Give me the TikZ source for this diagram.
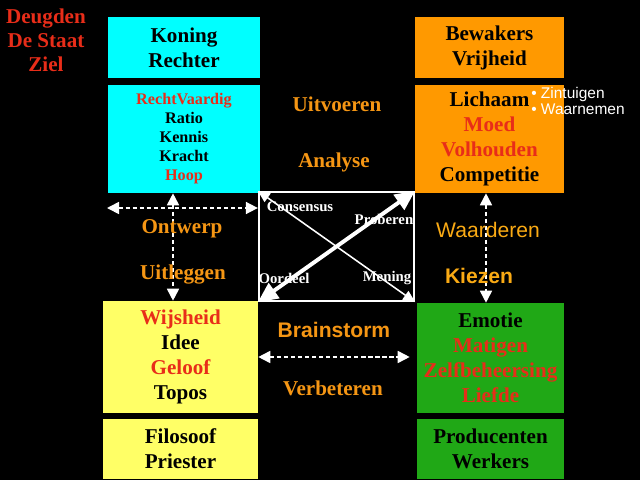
\documentclass[tikz,border=0pt]{standalone}
\usepackage{fontspec}
\setmainfont{Liberation Serif}
\setsansfont{Liberation Sans}
\definecolor{dgcyan}{RGB}{0,255,255}
\definecolor{dgorange}{RGB}{255,153,0}
\definecolor{dgyellow}{RGB}{255,255,102}
\definecolor{dggreen}{RGB}{32,168,22}
\definecolor{dgred}{RGB}{232,45,25}
\definecolor{dgtext}{RGB}{245,150,20}
\definecolor{dglight}{RGB}{250,170,20}
\usetikzlibrary{arrows.meta,positioning,calc}

\begin{document}
\begin{tikzpicture}[x=0.025cm,y=-0.025cm,
  box/.style={inner sep=0pt,align=center,text=black,
    font=\bfseries\fontsize{15}{17.8}\selectfont},
  smallbox/.style={box,font=\bfseries\fontsize{11.5}{13.5}\selectfont},
  verb/.style={font=\bfseries\fontsize{15}{17.5}\selectfont,text=dgtext},
  verbsf/.style={font=\sffamily\bfseries\fontsize{15}{17.5}\selectfont,text=dgtext},
  corner/.style={font=\bfseries\fontsize{10.5}{12}\selectfont,text=white,inner sep=0pt},
  dbl/.style={{Triangle[length=3mm,width=3mm]}-{Triangle[length=3mm,width=3mm]},
    white,densely dashed,line width=1.2pt}
]
  \useasboundingbox (0,0) rectangle (640,480);
  \fill[black] (0,0) rectangle (640,480);

  % Title
  \node[font=\bfseries\fontsize{15}{17}\selectfont,text=dgred,align=center]
    (titel) at (46,40) {Deugden\\De Staat\\Ziel};

  % Cyan column
  \node[box,fill=dgcyan,minimum width=3.8cm,minimum height=1.525cm]
    (koning) at (184,47.5) {Koning\\Rechter};
  \node[smallbox,fill=dgcyan,minimum width=3.8cm,minimum height=2.7cm] (recht) at (184,139)
    {\textcolor{dgred}{RechtVaardig}\\Ratio\\Kennis\\Kracht\\\textcolor{dgred}{Hoop}};

  % Orange column
  \node[box,fill=dgorange,minimum width=3.725cm,minimum height=1.525cm]
    (bewakers) at (489.5,47.5) {Bewakers\\Vrijheid};
  \node[box,fill=dgorange,minimum width=3.725cm,minimum height=2.7cm] (lichaam) at (489.5,139)
    {Lichaam\\\textcolor{dgred}{Moed}\\\textcolor{dgred}{Volhouden}\\Competitie};
  \node[font=\sffamily\fontsize{11}{11}\selectfont,text=white,align=left,anchor=west,
    inner sep=0pt] (zintuig) at (531,101) {• Zintuigen\\• Waarnemen};

  % Yellow column
  \node[box,fill=dgyellow,minimum width=3.875cm,minimum height=2.8cm] (wijsheid) at (180.5,357)
    {\textcolor{dgred}{Wijsheid}\\Idee\\\textcolor{dgred}{Geloof}\\Topos};
  \node[box,fill=dgyellow,minimum width=3.875cm,minimum height=1.5cm]
    (filosoof) at (180.5,449) {Filosoof\\Priester};

  % Green column
  \node[box,fill=dggreen,minimum width=3.675cm,minimum height=2.75cm] (emotie) at (490.5,358)
    {Emotie\\\textcolor{dgred}{Matigen}\\\textcolor{dgred}{Zelfbeheersing}\\\textcolor{dgred}{Liefde}};
  \node[box,fill=dggreen,minimum width=3.675cm,minimum height=1.5cm]
    (producenten) at (490.5,449) {Producenten\\Werkers};

  % Centre square
  \node[draw=white,line width=1.6pt,minimum width=3.875cm,minimum height=2.725cm,
    inner sep=0pt] (kern) at (336.5,246.5) {};
  \node[corner] (consensus) at (300,207) {Consensus};
  \node[corner] (proberen) at (384,219) {Proberen};
  \node[corner] (oordeel) at (284,278) {Oordeel};
  \node[corner] (mening) at (387,278) {Mening};
  \draw[white,line width=1.1pt,{Triangle[length=3mm,width=2.6mm]}-{Triangle[length=3mm,width=2.6mm]}]
    (kern.north west) -- (kern.south east);
  \draw[white,line width=2.8pt,{Triangle[length=5mm,width=4.5mm]}-{Triangle[length=5mm,width=4.5mm]}]
    (kern.south west) -- (kern.north east);

  % Arrows
  \coordinate (links) at (107,208);
  \coordinate (vl) at (173,0);
  \coordinate (vr) at (486,0);
  \draw[dbl] (links) -- (links -| kern.west);
  \draw[dbl] (recht.south -| vl) -- (wijsheid.north -| vl);
  \draw[dbl] (lichaam.south -| vr) -- (emotie.north -| vr);
  \draw[dbl,shorten >=1.75mm] (wijsheid.east) -- (wijsheid.east -| emotie.west);

  % Verbs
  \node[verb] (uitvoeren) at (337,104) {Uitvoeren};
  \node[verb] (analyse) at (334,162) {Analyse};
  \node[verb] (ontwerp) at (182,229) {Ontwerp};
  \node[verb] (uitleggen) at (183,275) {Uitleggen};
  \node[verbsf,font=\sffamily\fontsize{15}{17.5}\selectfont,text=dglight]
    (waarderen) at (488,230) {Waarderen};
  \node[verbsf,text=dglight] (kiezen) at (479,276) {Kiezen};
  \node[verbsf] (brainstorm) at (334,330) {Brainstorm};
  \node[verb] (verbeteren) at (333,388) {Verbeteren};
\end{tikzpicture}
\end{document}
